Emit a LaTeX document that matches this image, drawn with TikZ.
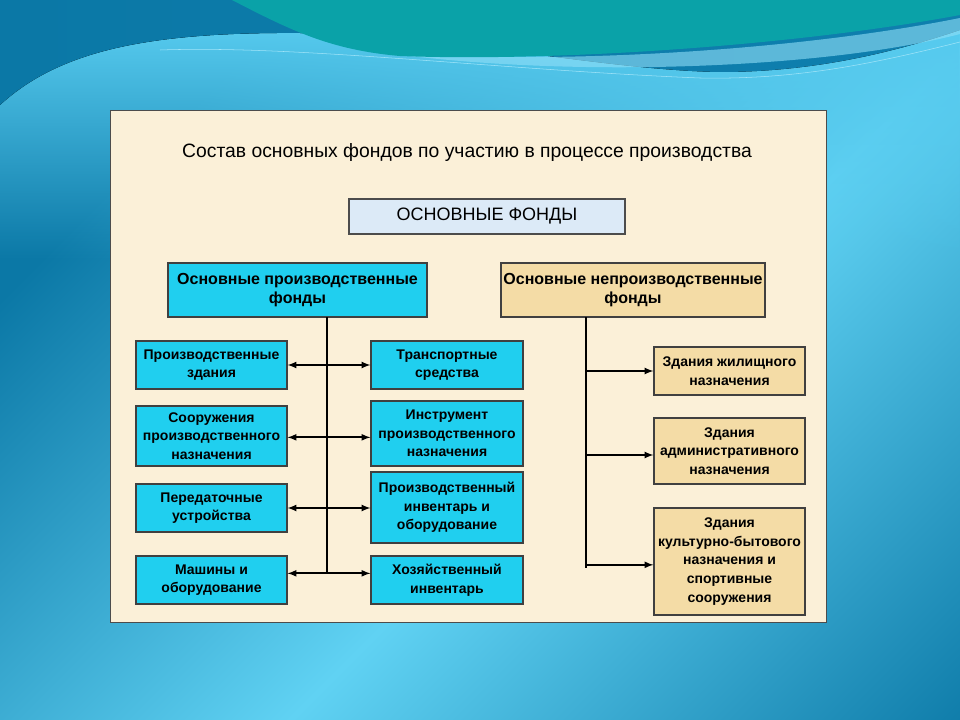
\documentclass[tikz,border=0pt]{standalone}
\usepackage{fontspec}
\setmainfont{Liberation Sans}
\usetikzlibrary{arrows,fadings}

\definecolor{bgdark}{HTML}{0B78A6}
\definecolor{bgmid}{HTML}{1E9CD0}
\definecolor{bglight}{HTML}{60D2F3}
\definecolor{bgteal}{HTML}{0AA2A8}
\definecolor{panel}{HTML}{FBF0D8}
\definecolor{prodfill}{HTML}{20CFEF}
\definecolor{npfill}{HTML}{F4DCA6}
\definecolor{topfill}{HTML}{DCEAF7}

\tikzset{
  boxtext/.style = {font=\bfseries\fontsize{10.5}{14}\selectfont, align=center},
  prod/.style = {draw=black!75, fill=prodfill, boxtext, inner sep=0pt},
  nonprod/.style = {draw=black!75, fill=npfill, boxtext, inner sep=0pt},
  link/.style = {line width=1.3pt},
}

\begin{document}
\begin{tikzpicture}
		[x=0.75pt, y=-0.75pt, thick, >=latex]
        \useasboundingbox (0,0) rectangle (960,720);

        % slide background
        \shade[top color=bgdark, bottom color=bgdark, middle color=bglight, shading angle=45]
            (0,0) rectangle (1160,860);
        \fill[bglight!85!bgmid, path fading=south]
            (0,105) .. controls (60,50) and (150,32) .. (300,33)
            .. controls (450,35) and (600,70) .. (720,72)
            .. controls (820,72) and (900,50) .. (960,30) -- (960,260) -- (0,260) -- cycle;
        \fill[left color=bgdark, right color=bgdark!80!bgmid]
            (0,0) -- (0,105) .. controls (60,50) and (150,32) .. (300,33)
            .. controls (450,35) and (600,70) .. (720,72)
            .. controls (820,72) and (900,50) .. (960,30) -- (960,0) -- cycle;
        \fill[bglight!70!white, opacity=0.6] (380,52) .. controls (560,66) and (800,50) .. (960,18)
            -- (960,34) .. controls (820,70) and (560,78) .. (380,52) -- cycle;
        \fill[bgteal] (232,0) .. controls (290,30) and (330,50) .. (400,56)
            .. controls (560,62) and (800,45) .. (960,15) -- (960,0) -- cycle;
        \draw[bglight!60!white, thin] (160,50) .. controls (300,45) and (500,70) .. (700,78)
            .. controls (800,80) and (880,62) .. (960,42);

        % panel
        \fill[panel, draw=black!70, thin] (110,110) rectangle (826,622);

        \node (title) at (467,153) {\fontsize{14.5}{17}\selectfont Состав основных фондов по участию в процессе производства};

        \node[draw=black!70, fill=topfill, minimum width=276*0.75pt, minimum height=35*0.75pt, font=\fontsize{13.5}{16}\selectfont]
            (of) at (487,216.5) {ОСНОВНЫЕ ФОНДЫ};

        \node[prod, minimum width=259*0.75pt, minimum height=54*0.75pt, font=\bfseries\fontsize{12}{14.5}\selectfont]
            (opf) at (297.5,290) {Основные производственные\\фонды};
        \node[nonprod, minimum width=264*0.75pt, minimum height=54*0.75pt, font=\bfseries\fontsize{12}{14.5}\selectfont]
            (onf) at (633,290) {Основные непроизводственные\\фонды};

        % left column
        \node[prod, minimum width=151*0.75pt, minimum height=48*0.75pt] (l1) at (211.5,365) {Производственные\\здания};
        \node[prod, minimum width=151*0.75pt, minimum height=60*0.75pt] (l2) at (211.5,436) {Сооружения\\производственного\\назначения};
        \node[prod, minimum width=151*0.75pt, minimum height=48*0.75pt] (l3) at (211.5,508) {Передаточные\\устройства};
        \node[prod, minimum width=151*0.75pt, minimum height=48*0.75pt] (l4) at (211.5,580) {Машины и\\оборудование};

        % middle column
        \node[prod, minimum width=152*0.75pt, minimum height=48*0.75pt] (m1) at (447,365) {Транспортные\\средства};
        \node[prod, minimum width=152*0.75pt, minimum height=65*0.75pt] (m2) at (447,433.5) {Инструмент\\производственного\\назначения};
        \node[prod, minimum width=152*0.75pt, minimum height=71*0.75pt] (m3) at (447,507.5) {Производственный\\инвентарь и\\оборудование};
        \node[prod, minimum width=152*0.75pt, minimum height=48*0.75pt] (m4) at (447,580) {Хозяйственный\\инвентарь};

        % right column
        \node[nonprod, minimum width=151*0.75pt, minimum height=48*0.75pt] (r1) at (729.5,371) {Здания жилищного\\назначения};
        \node[nonprod, minimum width=151*0.75pt, minimum height=66*0.75pt] (r2) at (729.5,451) {Здания\\административного\\назначения};
        \node[nonprod, minimum width=151*0.75pt, minimum height=107*0.75pt] (r3) at (729.5,561.5) {Здания\\культурно-бытового\\назначения и\\спортивные\\сооружения};

        \coordinate (ptop) at (327,317);
        \coordinate (pbot) at (327,573);
        \coordinate (ntop) at (586,317);
        \coordinate (nbot) at (586,568);

        \draw[line width=2pt] (ptop) -- (pbot);
        \draw[link, <->] (l1.east) -- (m1.west);
        \draw[link, <->] ([yshift=-1pt]l2.east) -- ([yshift=-1pt]l2.east -| m2.west);
        \draw[link, <->] (l3.east) -- (l3.east -| m3.west);
        \draw[link, <->] ([yshift=5pt]l4.east) -- ([yshift=5pt]m4.west);

        \draw[line width=2pt] (ntop) -- (nbot);
        \draw[link, ->] (ntop |- r1.west) -- (r1.west);
        \draw[link, ->] ([yshift=-3pt]ntop |- r2.west) -- ([yshift=-3pt]r2.west);
        \draw[link, ->] ([yshift=-2.5pt]ntop |- r3.west) -- ([yshift=-2.5pt]r3.west);
	\end{tikzpicture}
\end{document}
